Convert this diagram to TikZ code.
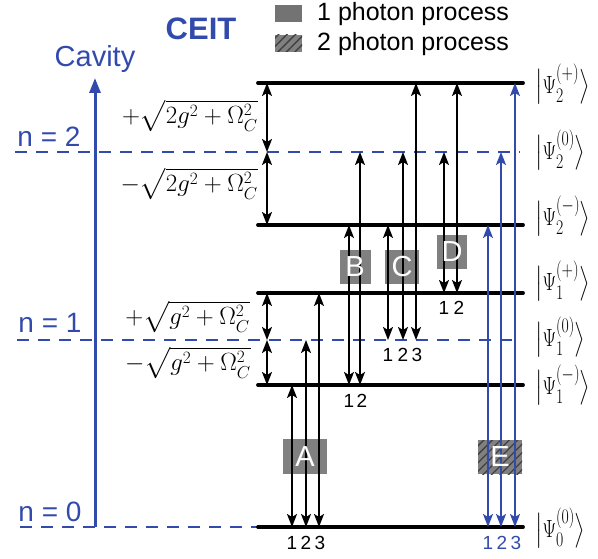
\documentclass[tikz,border=0pt]{standalone}
\usepackage{amsmath}
\usepackage{amssymb}
\usepackage{graphicx}
\usepackage{fontspec}
\setsansfont{Liberation Sans}
\usetikzlibrary{arrows.meta,patterns.meta}
\definecolor{cavblue}{RGB}{50,74,172}
\definecolor{boxgray}{RGB}{128,128,128}

\tikzset{
  level/.style={line width=3.8pt, line cap=round},
  cavdash/.style={cavblue, line width=2.6pt, dash pattern=on 12pt off 9pt},
  trans/.style={{Stealth[length=13pt,width=10pt,inset=3pt]}-{Stealth[length=13pt,width=10pt,inset=3pt]}, line width=1.8pt},
  hatch/.style={pattern={Lines[angle=45,distance=6pt,line width=1.3pt]}, pattern color=black!75},
  letter/.style={text=white, font=\sffamily\fontsize{29}{29}\selectfont, inner sep=0pt},
  numlab/.style={font=\sffamily\fontsize{19}{19}\selectfont, inner sep=0pt},
  bluetext/.style={cavblue, font=\sffamily\fontsize{28}{28}\selectfont, inner sep=0pt},
  ket/.style={anchor=west, inner sep=0pt, font=\fontsize{29}{31}\selectfont},
  split/.style={anchor=east, inner sep=0pt, font=\fontsize{26}{28}\selectfont}
}
\newcommand{\dket}[2]{\scalebox{0.76}[1]{$\bigl|\Psi_{#1}^{(#2)}\bigr\rangle$}}

\begin{document}
\begin{tikzpicture}[x=1pt, y=-1pt]
    \useasboundingbox (0,0) rectangle (598,559);
    % legend
    \fill [boxgray!110] (275,5) rectangle (302,22);
    \fill [boxgray] (275,35) rectangle (302,52);
    \fill [hatch] (275,35) rectangle (302,52);
    \node[anchor=west, inner sep=0pt, font=\sffamily\fontsize{25}{25}\selectfont] (leg1) at (317,14) {1 photon process};
    \node[anchor=west, inner sep=0pt, font=\sffamily\fontsize{25}{25}\selectfont] (leg2) at (317,44) {2 photon process};
    \node[cavblue, inner sep=0pt, font=\sffamily\bfseries\fontsize{31}{31}\selectfont] (ceit) at (201,29) {CEIT};
    % cavity axis
    \draw [cavblue, line width=3pt, -{Triangle[length=15pt,width=11pt]}] (95,527)--(95,78);
    \node[bluetext, font=\sffamily\fontsize{29}{29}\selectfont] (cav) at (95,59) {Cavity};
    \draw [cavdash] (15,152)--(520,152);
    \draw [cavdash] (17,340)--(520,340);
    \draw [cavdash] (20,527)--(258,527);
    \node[bluetext] (n2) at (49,137) {n = 2};
    \node[bluetext] (n1) at (50,323) {n = 1};
    \node[bluetext] (n0) at (50,512) {n = 0};
    % dressed levels
    \draw [level] (258,83)--(523,83);
    \draw [level] (258,225)--(523,225);
    \draw [level] (258,293)--(523,293);
    \draw [level] (258,385)--(523,385);
    \draw [level] (258,527)--(523,527);
    \draw [trans] (267,83)--(267,152);
    \draw [trans] (267,152)--(267,225);
    \draw [trans] (267,293)--(267,340);
    \draw [trans] (267,340)--(267,385);
    \node[split] (s2p) at (258,116) {$+\sqrt{2g^{2}+\Omega_C^2}$};
    \node[split] (s2m) at (258,184) {$-\sqrt{2g^{2}+\Omega_C^2}$};
    \node[split] (s1p) at (250,317) {$+\sqrt{g^{2}+\Omega_C^2}$};
    \node[split] (s1m) at (251,363) {$-\sqrt{g^{2}+\Omega_C^2}$};
    % process boxes
    \fill [boxgray] (283,439) rectangle (327,474);
    \fill [boxgray] (340,250) rectangle (371,284);
    \fill [boxgray] (385,250) rectangle (419,284);
    \fill [boxgray] (437,235) rectangle (467,269);
    \fill [boxgray] (478,440) rectangle (522,474);
    \fill [hatch] (478,440) rectangle (522,474);
    % transitions
    \draw [trans] (292,527)--(292,385);
    \draw [trans] (306,527)--(306,340);
    \draw [trans] (319,527)--(319,293);
    \draw [trans] (349,385)--(349,225);
    \draw [trans] (360,385)--(360,152);
    \draw [trans] (388,340)--(388,225);
    \draw [trans] (403,340)--(403,152);
    \draw [trans] (416,340)--(416,83);
    \draw [trans] (444,293)--(444,152);
    \draw [trans] (457,293)--(457,83);
    \draw [trans, cavblue] (488,527)--(488,225);
    \draw [trans, cavblue] (501,527)--(501,152);
    \draw [trans, cavblue] (515,527)--(515,83);
    \node[letter] (A) at (305,457) {A};
    \node[letter] (B) at (355,267) {B};
    \node[letter] (C) at (402,267) {C};
    \node[letter] (D) at (452,252) {D};
    \node[letter] (E) at (500,457) {E};
    % numbering
    \node[numlab] (a1) at (292,543) {1};
    \node[numlab] (a2) at (306,543) {2};
    \node[numlab] (a3) at (320,543) {3};
    \node[numlab] (b1) at (349,401) {1};
    \node[numlab] (b2) at (362,401) {2};
    \node[numlab] (c1) at (388,355) {1};
    \node[numlab] (c2) at (403,355) {2};
    \node[numlab] (c3) at (417,355) {3};
    \node[numlab] (d1) at (444,308) {1};
    \node[numlab] (d2) at (459,308) {2};
    \node[numlab, cavblue] (e1) at (488,543) {1};
    \node[numlab, cavblue] (e2) at (502,543) {2};
    \node[numlab, cavblue] (e3) at (516,543) {3};
    % state labels
    \node[ket] (k2p) at (535,84) {\dket{2}{+}};
    \node[ket] (k20) at (535,150) {\dket{2}{0}};
    \node[ket] (k2m) at (535,216) {\dket{2}{-}};
    \node[ket] (k1p) at (535,281) {\dket{1}{+}};
    \node[ket] (k10) at (535,337) {\dket{1}{0}};
    \node[ket] (k1m) at (535,385) {\dket{1}{-}};
    \node[ket] (k00) at (535,528) {\dket{0}{0}};
\end{tikzpicture}
\end{document}
